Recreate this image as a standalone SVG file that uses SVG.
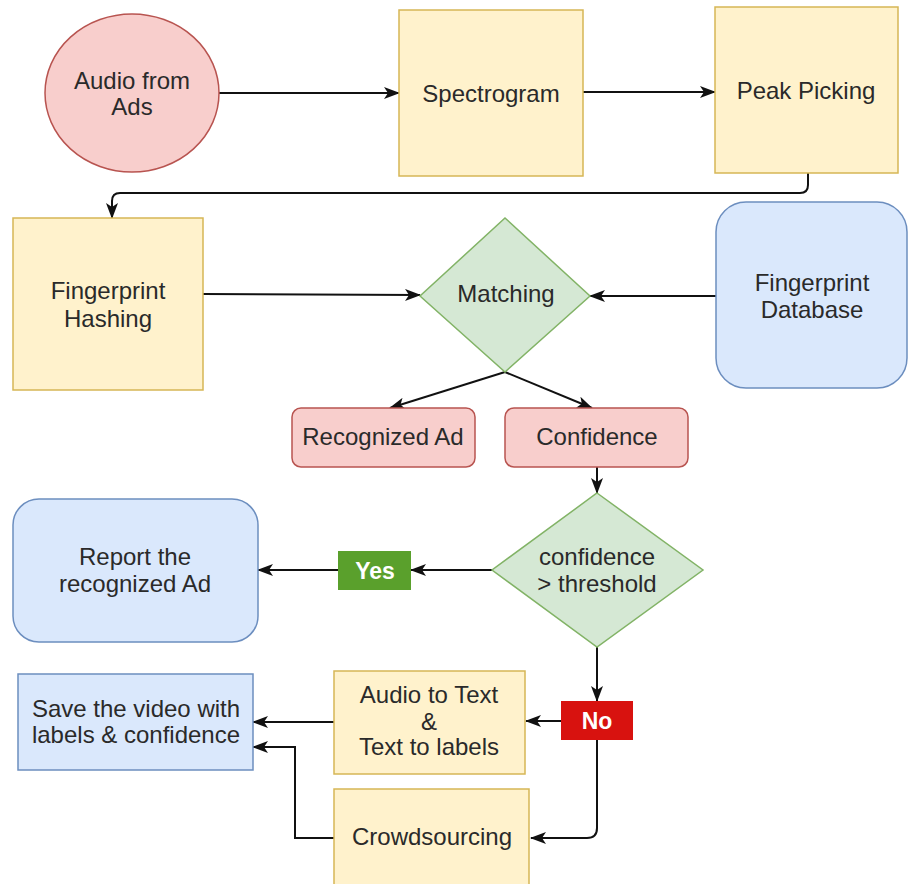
<svg xmlns="http://www.w3.org/2000/svg" width="908" height="884" viewBox="0 0 908 884">
  <style>
    text { font-family: "Liberation Sans", Arial, Helvetica, sans-serif; font-size: 24px; fill: #2a2a2a; text-anchor: middle; }
    .yellow { fill: #FFF2CC; stroke: #D6B656; stroke-width: 1.5; }
    .pink { fill: #F8CECC; stroke: #B85450; stroke-width: 1.5; }
    .green { fill: #D5E8D4; stroke: #82B366; stroke-width: 1.5; }
    .blue { fill: #DAE8FC; stroke: #6C8EBF; stroke-width: 1.5; }
    .badge { font-weight: bold; fill: #fff; font-size: 23px; }
    #edges path { fill: none; stroke: #111; stroke-width: 2; marker-end: url(#arrow); }
  </style>
  <defs>
    <marker id="arrow" viewBox="0 0 16 12" markerWidth="16" markerHeight="12" refX="15" refY="6" orient="auto" markerUnits="userSpaceOnUse">
      <path d="M0,0 L16,6 L0,12 L4,6 z" fill="#111"/>
    </marker>
  </defs>
  <rect width="908" height="884" fill="#fff"/>

  <g id="edges">
    <path d="M219,93 L399,93"/>
    <path d="M583,92 L715,92"/>
    <path d="M808,173 L808,185 Q808,193 800,193 L120,193 Q112,193 112,201 L112,218"/>
    <path d="M203,294 L420,295"/>
    <path d="M716,296 L590,296"/>
    <path d="M505,372 L390,408"/>
    <path d="M505,372 L592,408"/>
    <path d="M597,467 L597,493"/>
    <path d="M492,570 L411,570"/>
    <path d="M338,570 L258,570"/>
    <path d="M597,647 L597,701"/>
    <path d="M561,721 L526,721"/>
    <path d="M597,740 L597,828 Q597,838 587,838 L531,838"/>
    <path d="M334,722 L253,722"/>
    <path d="M334,838 L295,838 L295,747 L253,747"/>
  </g>

  <g id="audio-from-ads">
    <ellipse class="pink" cx="132" cy="93" rx="87" ry="79"/>
    <text x="132" y="89">Audio from</text>
    <text x="132" y="115">Ads</text>
  </g>

  <g id="spectrogram">
    <rect class="yellow" x="399" y="10" width="184" height="166"/>
    <text x="491" y="102">Spectrogram</text>
  </g>

  <g id="peak-picking">
    <rect class="yellow" x="715" y="7" width="183" height="166"/>
    <text x="806" y="99">Peak Picking</text>
  </g>

  <g id="fingerprint-hashing">
    <rect class="yellow" x="13" y="218" width="190" height="172"/>
    <text x="108" y="299">Fingerprint</text>
    <text x="108" y="327">Hashing</text>
  </g>

  <g id="matching">
    <polygon class="green" points="505,218 590,296 505,372 420,296"/>
    <text x="506" y="302">Matching</text>
  </g>

  <g id="fingerprint-database">
    <rect class="blue" x="716" y="202" width="191" height="186" rx="30" ry="30"/>
    <text x="812" y="291">Fingerprint</text>
    <text x="812" y="318">Database</text>
  </g>

  <g id="recognized-ad">
    <rect class="pink" x="292" y="408" width="183" height="59" rx="9" ry="9"/>
    <text x="383" y="445">Recognized Ad</text>
  </g>

  <g id="confidence">
    <rect class="pink" x="505" y="408" width="183" height="59" rx="9" ry="9"/>
    <text x="597" y="445">Confidence</text>
  </g>

  <g id="threshold-check">
    <polygon class="green" points="597,493 703,570 597,647 492,570"/>
    <text x="597" y="565">confidence</text>
    <text x="597" y="592">&gt; threshold</text>
  </g>

  <g id="yes-label">
    <rect x="338" y="551" width="73" height="39" fill="#5AA02C"/>
    <text class="badge" x="375" y="579">Yes</text>
  </g>

  <g id="report-ad">
    <rect class="blue" x="13" y="499" width="245" height="143" rx="26" ry="26"/>
    <text x="135" y="565">Report the</text>
    <text x="135" y="592">recognized Ad</text>
  </g>

  <g id="no-label">
    <rect x="561" y="701" width="72" height="39" fill="#D8120F"/>
    <text class="badge" x="597" y="729">No</text>
  </g>

  <g id="audio-to-text">
    <rect class="yellow" x="334" y="671" width="191" height="103"/>
    <text x="429" y="703">Audio to Text</text>
    <text x="429" y="730">&amp;</text>
    <text x="429" y="755">Text to labels</text>
  </g>

  <g id="crowdsourcing">
    <rect class="yellow" x="334" y="789" width="195" height="110"/>
    <text x="432" y="845">Crowdsourcing</text>
  </g>

  <g id="save-video">
    <rect class="blue" x="18" y="674" width="235" height="96"/>
    <text x="136" y="717">Save the video with</text>
    <text x="136" y="743">labels &amp; confidence</text>
  </g>
</svg>
